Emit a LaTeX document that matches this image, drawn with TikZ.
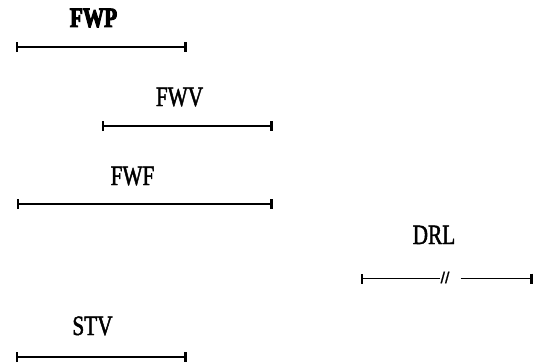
\documentclass[tikz,border=0pt]{standalone}
\usepackage{fontspec}
\setmainfont{Liberation Serif}
\newfontfamily\lblfont[FakeStretch=0.76,FakeBold=1.6]{Liberation Serif}
\newfontfamily\lblbold[FakeStretch=0.76,FakeBold=3.5]{Liberation Serif}
\newfontfamily\slashfont[FakeBold=1]{Liberation Sans}
\usetikzlibrary{arrows.meta}
\tikzset{
  lbl/.style={inner sep=0pt, anchor=base, font=\lblfont\fontsize{28}{30}\selectfont},
  span/.style={line width=1.1pt, {Bar[width=10pt,line width=2.6pt]}-{Bar[width=10pt,line width=2.6pt]}},
  seg/.style={line width=1.1pt}
}
\begin{document}
\begin{tikzpicture}[x=1pt,y=-1pt]
\useasboundingbox (0,0) rectangle (536,364);
% labels
\node[lbl, font=\lblbold\bfseries\fontsize{28}{30}\selectfont] (fwp) at (93.5,27) {FWP};
\node[lbl] (fwv) at (179.5,106) {FWV};
\node[lbl] (fwf) at (132.5,185) {FWF};
\node[lbl] (drl) at (434,244) {DRL};
\node[lbl] (stv) at (92.5,335) {STV};
% endpoints
\coordinate (fwpA) at (15.5,47);  \coordinate (fwpB) at (186.5,47);
\coordinate (fwvA) at (101.5,126); \coordinate (fwvB) at (273,126);
\coordinate (fwfA) at (16.5,204); \coordinate (fwfB) at (272.5,204);
\coordinate (stvA) at (15.5,357); \coordinate (stvB) at (186.5,357);
\coordinate (drlA) at (360.5,278.5); \coordinate (drlM) at (440,278.5);
\coordinate (drlN) at (460.5,278.5); \coordinate (drlB) at (532.5,278.5);
\draw[span] (fwpA) -- (fwpB);
\draw[span] (fwvA) -- (fwvB);
\draw[span] (fwfA) -- (fwfB);
\draw[span] (stvA) -- (stvB);
\draw[seg, {Bar[width=10pt,line width=2.6pt]}-] (drlA) -- (drlM);
\draw[seg, -{Bar[width=10pt,line width=2.6pt]}] (drlN) -- (drlB);
\node[inner sep=0pt, font=\slashfont\fontsize{16}{17}\selectfont] (brk) at (445,277.5) {//};
\end{tikzpicture}
\end{document}
